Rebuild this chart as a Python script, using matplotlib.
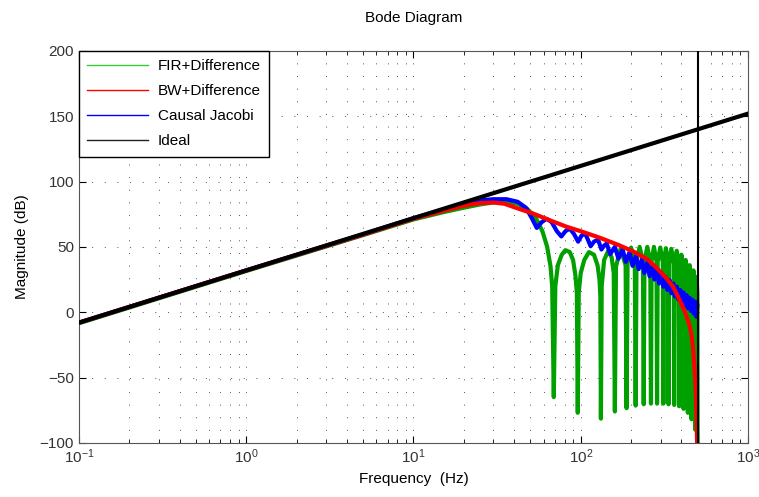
import matplotlib
matplotlib.use("Agg")
import matplotlib.pyplot as plt
from matplotlib.lines import Line2D
from matplotlib.ticker import LogLocator, MultipleLocator, NullFormatter

plt.rcParams['font.family'] = ['Liberation Sans', 'DejaVu Sans']
plt.rcParams['mathtext.fontset'] = 'custom'
plt.rcParams['mathtext.rm'] = 'Liberation Sans'

# values (frequency in Hz, magnitude in dB)
ideal_freq = [0.1, 1000]
ideal_db = [-8, 152]
nyquist_hz = 500

red_freq = [0.1, 1, 5, 10, 15, 20, 25, 30, 35, 43, 52, 65, 82, 100, 130, 168,
            206, 250, 284, 320, 357, 391, 420, 445, 459, 470, 477, 484, 489,
            493, 497]
red_db = [-8, 32, 59.5, 71.5, 77.5, 81.5, 83.5, 84, 83, 79, 75.5, 70.5, 65.5,
          62, 57, 51.5, 46.5, 40.5, 34, 27, 19.5, 9, 0, -9, -17, -28, -40,
          -52, -67, -82, -105]

blue_freq = [0.1, 1, 5, 10, 15, 20, 25, 30, 36, 42, 47, 51, 54.6, 58.5, 62.5,
             67, 72, 76.6, 81, 86, 91, 96.5, 101, 106, 110, 114.6, 120, 127,
             133, 138, 143, 150, 160, 168, 178, 186, 196, 204, 214, 222, 232,
             240, 250, 258, 268, 276, 286, 294, 304, 312, 322, 330, 340, 348,
             358, 366, 376, 384, 394, 402, 412, 420, 430, 438, 448, 456, 466,
             474, 484, 492, 498]
blue_db = [-8, 32, 59.5, 72, 78.5, 82.5, 85.5, 86.5, 86.5, 84.5, 80, 72, 64.5,
           69, 71.5, 69, 62, 58, 62, 64, 60, 54, 58.5, 60.5, 56, 50.5, 54,
           55.5, 48, 51, 52.5, 44.5, 50, 41, 48, 38.5, 46, 35.5, 43, 33, 40.5,
           30, 38, 27.5, 35, 25, 32.5, 22, 30, 19.5, 27, 17, 24.5, 14.5, 22,
           12, 19.5, 9.5, 17, 7, 15, 5, 13, 3, 11, 1, 9.5, -1, 8, -3.5, 5]

green_freq = [0.1, 1, 5, 10, 15, 20, 25, 30, 36, 42, 48, 54, 59, 63, 66, 67.5,
              69, 70.5, 73, 77, 81, 86, 90, 93, 94.8, 96, 97.3, 100, 105, 112,
              120, 126, 129.5, 131, 132, 133.5, 138, 146, 153, 157.5, 160,
              162.5, 173, 185.5, 188, 190.5, 200, 210.5, 213, 215.5, 225,
              235.5, 238, 240.5, 250, 260.5, 263, 265.3, 274, 283.7, 286,
              288.5, 299, 309.5, 312, 314.3, 323, 332.7, 335, 337.5, 348,
              359.5, 362, 364.5, 375, 385.5, 388, 390.5, 400, 409.5, 412,
              414.5, 424, 434.5, 437, 439.3, 448, 457.7, 460, 462.3, 472,
              481.7, 484, 486, 492, 498, 500]
green_db = [-8.5, 31.5, 59, 71, 76.5, 80, 82.5, 84, 84.5, 83, 79, 72, 62, 50,
            35, 20, -65, 20, 36, 44, 47.5, 46, 40, 28, 15, -77, 15, 30, 40, 46,
            44, 36, 25, 12, -81.5, 20, 40, 47, 42, 30, -76, 35, 48.5, 36,
            -73.5, 38, 49.5, 38, -71.5, 39, 50, 39, -70.5, 39, 50, 39, -70,
            39, 50, 39, -70, 39, 49.5, 38, -70, 38, 49, 38, -70.5, 37, 48.5,
            37, -71, 36, 47, 35, -72, 33, 44, 32, -74, 29, 40, 28, -77, 25,
            36, 24, -82, 21, 32, 20, -90, 17, 27, 15, -100]

labels = ['FIR+Difference', 'BW+Difference', 'Causal Jacobi', 'Ideal']
colors = ['#00a000', '#ff0000', '#0000ff', '#000000']

fig = plt.figure(figsize=(7.59, 4.97), dpi=100)
ax = fig.add_axes([0.104, 0.109, 0.8815, 0.7885])

ax.semilogx(green_freq, green_db, color=colors[0], lw=3, zorder=2)
ax.semilogx(blue_freq, blue_db, color=colors[2], lw=3, zorder=3)
ax.semilogx(red_freq, red_db, color=colors[1], lw=3, zorder=4)
ax.semilogx(ideal_freq, ideal_db, color=colors[3], lw=3, zorder=5)
ax.axvline(nyquist_hz, color='black', lw=1.5, zorder=6)

ax.set_xlim(0.1, 1000)
ax.set_ylim(-100, 200)
ax.yaxis.set_major_locator(MultipleLocator(50))
ax.xaxis.set_major_locator(LogLocator(base=10, numticks=10))
ax.xaxis.set_minor_locator(LogLocator(base=10, subs=range(2, 10), numticks=20))
ax.xaxis.set_minor_formatter(NullFormatter())

dots = (0, (1, 12))
ax.grid(True, which='major', linestyle=dots, color='#555555', lw=0.7)
ax.grid(True, which='minor', axis='x', linestyle=dots, color='#555555', lw=0.7)

ax.tick_params(which='both', direction='in', top=True, right=True,
               labelsize=11, labelcolor='#333333')
ax.tick_params(which='major', length=5)
ax.tick_params(which='minor', length=3)
for s in ax.spines.values():
    s.set_color('#555555')

ax.set_title('Bode Diagram', fontsize=11, pad=21)
ax.set_xlabel('Frequency  (Hz)', fontsize=11)
ax.set_ylabel('Magnitude (dB)', fontsize=11, labelpad=8)

handles = [Line2D([], [], color=c, lw=1) for c in colors]
handles[0].set_color('#33cc33')
handles[3].set_color('#222222')
leg = ax.legend(handles, labels, loc='upper left', fontsize=11,
                fancybox=False, framealpha=1, edgecolor='black',
                borderaxespad=0, handlelength=4.0, borderpad=0.55,
                labelspacing=0.72, handletextpad=0.6)
leg.get_frame().set_linewidth(1.0)
leg.set_zorder(10)

fig.savefig('out.png', dpi=100)
